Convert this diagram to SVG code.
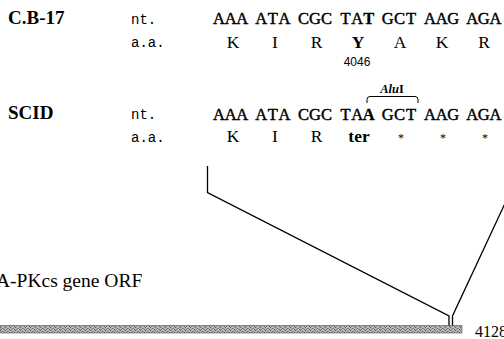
<svg xmlns="http://www.w3.org/2000/svg" width="504" height="339" viewBox="0 0 504 339">
<style>
.lbl{font-family:"Liberation Serif",serif;font-weight:bold;font-size:19px;fill:#000}
.tag{font-family:"Liberation Mono",monospace;font-size:14px;fill:#000}
.seq{font-family:"Liberation Serif",serif;font-size:16.5px;fill:#000;stroke:#000;stroke-width:0.45;text-anchor:middle}
.seq .mut{font-weight:bold;stroke-width:0.3}
.aa{font-family:"Liberation Serif",serif;font-size:17.5px;fill:#000;text-anchor:middle}
.b{font-weight:bold}
.ast{font-size:12px}
.small{font-family:"Liberation Sans",sans-serif;font-size:12px;fill:#000;text-anchor:middle}
.enz{font-family:"Liberation Serif",serif;font-size:12.5px;font-weight:bold;fill:#000;text-anchor:middle}
.gene{font-family:"Liberation Serif",serif;font-size:19.5px;fill:#000}
.num{font-family:"Liberation Serif",serif;font-size:16px;fill:#000}
.ln{fill:none;stroke:#000;stroke-width:1.3}
</style>
<defs>
<pattern id="hatch" width="5" height="3" patternUnits="userSpaceOnUse">
<rect width="5" height="3" fill="#b8b8b8"/>
<rect x="0" y="0" width="1" height="1" fill="#5a5a5a"/>
<rect x="2" y="1" width="1.5" height="1" fill="#6a6a6a"/>
<rect x="4" y="2" width="1" height="1" fill="#5a5a5a"/>
<rect x="1" y="2" width="1" height="1" fill="#8a8a8a"/>
</pattern>
</defs>
<rect width="504" height="339" fill="#fff"/>
<g id="cb17">
<text class="lbl" x="8" y="24">C.B-17</text>
<text class="tag" x="131" y="24">nt.</text>
<text class="tag" x="131" y="47">a.a.</text>
<g class="seq">
<text x="219 230.6 242.2" y="24">AAA</text>
<text x="261.2 272.8 284.4" y="24">ATA</text>
<text x="303.4 315 326.6" y="24">CGC</text>
<text x="345.6 357.2 368.8" y="24">TA<tspan class="mut">T</tspan></text>
<text x="387.8 399.4 411" y="24">GCT</text>
<text x="430 441.6 453.2" y="24">AAG</text>
<text x="472.2 483.8 495.4" y="24">AGA</text>
</g>
<g class="aa">
<text x="233" y="48">K</text>
<text x="275" y="48">I</text>
<text x="316.5" y="48">R</text>
<text x="358" y="48" class="b">Y</text>
<text x="400" y="48">A</text>
<text x="442" y="48">K</text>
<text x="484" y="48">R</text>
</g>
<text class="small" x="357" y="66">4046</text>
</g>
<g id="scid">
<text class="lbl" x="8" y="119">SCID</text>
<text class="tag" x="131" y="119">nt.</text>
<text class="tag" x="131" y="142">a.a.</text>
<g class="seq">
<text x="219 230.6 242.2" y="120">AAA</text>
<text x="261.2 272.8 284.4" y="120">ATA</text>
<text x="303.4 315 326.6" y="120">CGC</text>
<text x="345.6 357.2 368.8" y="120">TA<tspan class="mut">A</tspan></text>
<text x="387.8 399.4 411" y="120">GCT</text>
<text x="430 441.6 453.2" y="120">AAG</text>
<text x="472.2 483.8 495.4" y="120">AGA</text>
</g>
<g class="aa">
<text x="233" y="142">K</text>
<text x="275" y="142">I</text>
<text x="316.5" y="142">R</text>
<text x="359" y="142" class="b">ter</text>
<text x="401" y="142" class="ast">*</text>
<text x="443" y="142" class="ast">*</text>
<text x="485" y="142" class="ast">*</text>
</g>
<g id="alui">
<text class="enz" x="392" y="93"><tspan font-style="italic">Alu</tspan>I</text>
<path class="ln" style="stroke-width:1" d="M367,103 L367,99.5 Q367,96.5 370,96.5 L415,96.5 Q418,96.5 418,99.5 L418,103"/>
</g>
</g>
<g id="gene">
<text class="gene" x="-4" y="287">A-PKcs gene ORF</text>
<rect x="0" y="325.5" width="462" height="7.5" fill="url(#hatch)" stroke="#555" stroke-width="0.6"/>
<text class="num" x="475" y="337">4128</text>
</g>
<g id="connectors">
<path class="ln" d="M207.5,166 L207.5,192.5 L449,316 L449,325.5"/>
<path class="ln" d="M507,199 L452.5,316 L452.5,325.5"/>
</g>
</svg>
